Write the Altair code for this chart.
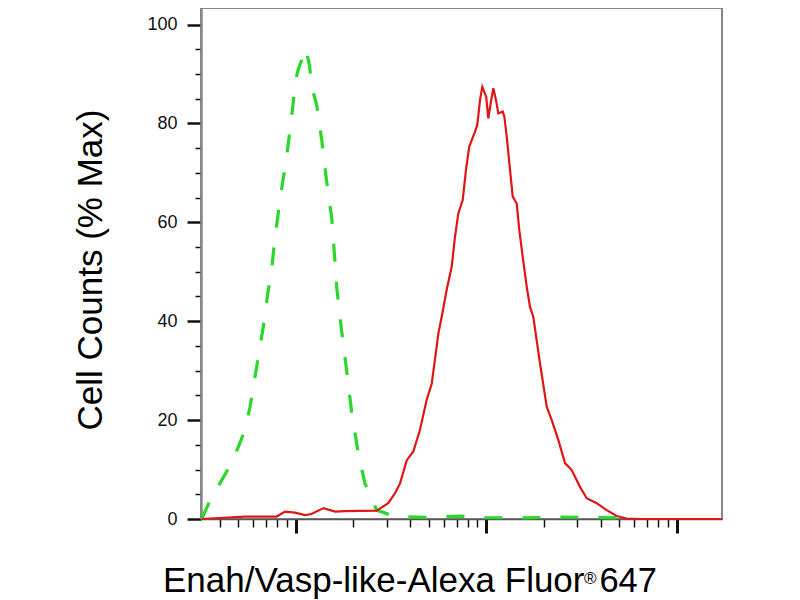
import altair as alt
import pandas as pd

# fluorescence intensity (log axis) and % of max
green_x = [3.21, 3.48, 4.00, 4.43, 5.00, 5.42, 5.76, 6.24, 6.76, 7.18,
           7.42, 7.79, 8.37, 8.97, 9.53, 10.0, 10.3, 11.3, 11.8, 12.2,
           12.9, 13.7, 14.5, 15.5, 16.1, 16.4, 17.4, 18.5, 19.7, 21.3,
           23.1, 26.6, 33.2, 50.7, 72.9, 100, 150, 244, 396, 504]
green_y = [0, 3, 7.2, 10.2, 14.6, 18, 22.7, 30.8, 38.9, 46.3,
           49.3, 57, 65.9, 73.3, 81.4, 88.8, 90.8, 95.2, 91.8, 87.1,
           83.7, 76.6, 68.6, 60.5, 51.7, 47, 38.2, 30.1, 21.4, 13.3,
           7.2, 1.8, 0.5, 0.3, 0.6, 0.3, 0.2, 0.4, 0.3, 0.2]

red_x = [3.21, 5.42, 7.95, 8.79, 9.92, 11.2, 12.1, 14.0, 16.1, 18.1,
         26.6, 30.6, 33.2, 35.3, 38.3, 41.4, 44.9, 48.7, 51.8, 53.8,
         56.1, 58.4, 62.0, 65.9, 68.6, 71.4, 75.3, 78.3, 81.5, 87.3,
         89.8, 92.8, 95.4, 100, 102.6, 105.6, 109, 112.6, 115.8, 122.1,
         124.5, 128.2, 133.4, 137.8, 144.6, 149.2, 155.5, 163.2, 169.8, 176.7,
         191.6, 207.8, 220.8, 239.1, 259.2, 281.1, 310.7, 337.0, 380.3, 429.1,
         484.2, 546.4, 641.9, 1729]
red_y = [0, 0.5, 0.5, 1.5, 1.3, 0.8, 1.0, 2.2, 1.5, 1.6,
         1.7, 3.2, 5.2, 7.2, 11.9, 13.6, 18, 24.1, 27.4, 32.2,
         37.5, 40.9, 46.3, 51, 57.1, 61.8, 64.5, 70.6, 75.3, 78.3,
         79.7, 84.7, 87.4, 85.4, 81, 84.1, 87.1, 84.7, 82, 82.4,
         81.4, 77.3, 70.6, 65.2, 63.8, 58.4, 53, 47, 42.9, 40.9,
         31.5, 22.7, 20, 16, 11.3, 9.9, 6.5, 4.2, 3.2, 1.8,
         0.6, 0.1, 0, 0]

x_ticks = [4, 5, 6, 7, 8, 9,
           10, 20, 30, 40, 50, 60, 70, 80, 90,
           100, 200, 300, 400, 500, 600, 700, 800, 900,
           1000]
y_ticks = list(range(0, 101, 5))

FONT = 'Liberation Sans'
MAJOR_X = 'datum.value == 10 || datum.value == 100 || datum.value == 1000'

x_scale = alt.Scale(type='log', domain=[3.184, 1729], nice=False)
y_scale = alt.Scale(domain=[0, 103.34], nice=False, zero=False)

x_axis = alt.Axis(
    values=x_ticks,
    labels=False,
    title=None,
    grid=False,
    domainColor='#555555',
    domainWidth=1.5,
    tickColor='#111111',
    tickSize={'condition': {'test': MAJOR_X, 'value': 14}, 'value': 8},
    tickWidth={'condition': {'test': MAJOR_X, 'value': 3}, 'value': 1.5},
)

y_axis = alt.Axis(
    values=y_ticks,
    labelExpr="datum.value % 20 == 0 ? datum.label : ''",
    title=None,
    grid=False,
    domainColor='#888888',
    domainWidth=2.5,
    tickColor='#111111',
    tickSize={'condition': {'test': 'datum.value % 20 == 0', 'value': 14}, 'value': 6},
    tickWidth={'condition': {'test': 'datum.value % 20 == 0', 'value': 2.5}, 'value': 1.5},
    labelFont=FONT,
    labelFontSize=18,
    labelColor='#111111',
    labelPadding=10,
)

green = alt.Chart(pd.DataFrame({'x': green_x, 'y': green_y})).mark_line(
    color='#2ad82a', strokeWidth=3.2, strokeDash=[18, 20]
).encode(
    x=alt.X('x:Q', scale=x_scale, axis=x_axis),
    y=alt.Y('y:Q', scale=y_scale, axis=y_axis),
)

red = alt.Chart(pd.DataFrame({'x': red_x, 'y': red_y})).mark_line(
    color='#e01616', strokeWidth=2.2
).encode(
    x=alt.X('x:Q', scale=x_scale, axis=x_axis),
    y=alt.Y('y:Q', scale=y_scale, axis=y_axis),
)

y_title = alt.Chart(pd.DataFrame({'t': ['Cell Counts (% Max)']})).mark_text(
    angle=270, align='center', baseline='alphabetic',
    font=FONT, fontSize=35, color='#000000'
).encode(text='t:N', x=alt.value(-99), y=alt.value(262))

x_title = alt.Chart(pd.DataFrame({'t': ['Enah/Vasp-like-Alexa Fluor']})).mark_text(
    align='left', baseline='alphabetic',
    font=FONT, fontSize=35, color='#000000'
).encode(text='t:N', x=alt.value(-38), y=alt.value(584))

x_title_reg = alt.Chart(pd.DataFrame({'t': ['®']})).mark_text(
    align='left', baseline='alphabetic',
    font=FONT, fontSize=17, color='#000000'
).encode(text='t:N', x=alt.value(383), y=alt.value(576))

x_title_num = alt.Chart(pd.DataFrame({'t': ['647']})).mark_text(
    align='right', baseline='alphabetic',
    font=FONT, fontSize=34.5, color='#000000'
).encode(text='t:N', x=alt.value(456), y=alt.value(584))

chart = alt.layer(green, red, y_title, x_title, x_title_reg, x_title_num).properties(
    width=521,
    height=511,
    autosize=alt.AutoSizeParams(type='none'),
    padding={'left': 193, 'top': 0, 'right': 70, 'bottom': 80},
    background='white',
).configure_view(
    stroke='#888888',
    strokeWidth=2,
)

chart.save('out.html', embed_options={'renderer': 'svg', 'actions': False})
